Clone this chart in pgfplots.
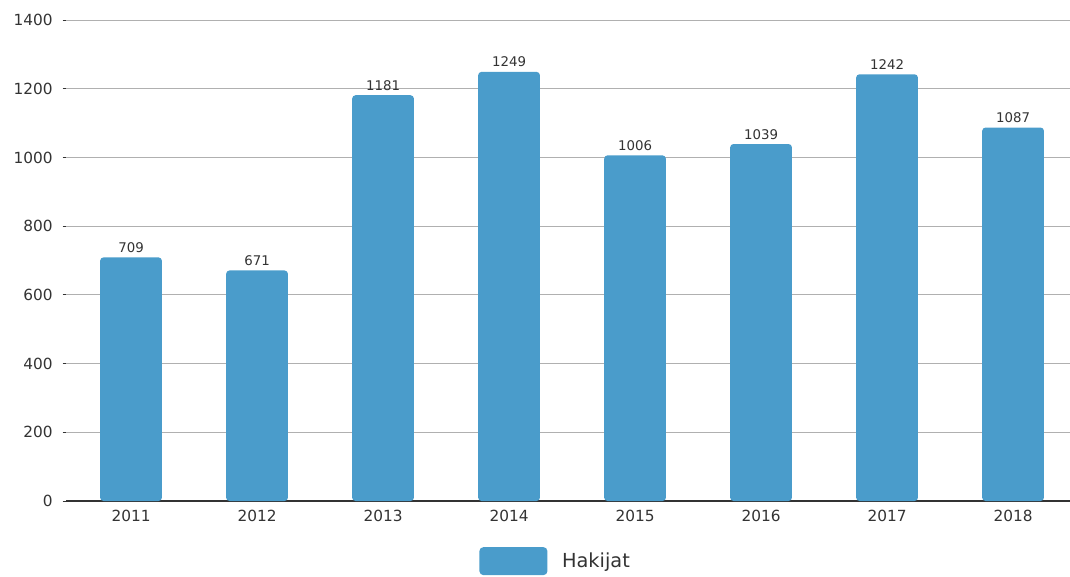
\documentclass[border=0pt]{standalone}
\usepackage{pgfplots}
\pgfplotsset{compat=1.18}
\usepackage{fontspec}
\setmainfont{DejaVu Sans}
\definecolor{barblue}{HTML}{4A9CCB}
\definecolor{txt}{HTML}{333333}
\definecolor{gridc}{HTML}{B0B0B0}
\begin{document}
\begin{tikzpicture}
\path[use as bounding box] (0,0) rectangle (802.5pt,432pt);
\begin{axis}[
  at={(49.5pt,56.25pt)}, anchor=south west,
  scale only axis, width=753pt, height=360.75pt,
  ymin=0, ymax=1400, xmin=-0.516, xmax=7.452,
  ytick={0,200,...,1400},
  xtick=data,
  xticklabels={2011,2012,2013,2014,2015,2016,2017,2018},
  /pgf/number format/1000 sep={},
  /pgf/number format/assume math mode=true,
  axis x line*=bottom, axis y line*=left,
  y axis line style={draw=none},
  x axis line style={draw=txt, line width=0.9pt, -},
  xtick style={draw=none},
  ytick style={draw=txt, line width=0.6pt},
  tick align=outside, major tick length=2.5pt,
  ymajorgrids, grid style={draw=gridc, line width=0.7pt},
  tick label style={font=\fontsize{11.5}{13}\selectfont, text=txt},
  yticklabel style={xshift=-4pt},
  xticklabel style={yshift=-1pt},
  legend style={draw=none, fill=none, at={(axis description cs:0.488,-0.125)}, anchor=center,
    font=\fontsize{14.5}{17}\selectfont, text=txt},
  legend image code/.code={\fill[barblue, rounded corners=3pt] (0pt,-10.5pt) rectangle (51pt,10.5pt);},
  legend cell align=left,
]
\addplot[ybar, bar width=0.49, fill=barblue, draw=none, rounded corners=2.5pt,
  nodes near coords,
  every node near coord/.append style={font=\fontsize{10}{12}\selectfont, text=txt}]
  coordinates {(0,709) (1,671) (2,1181) (3,1249) (4,1006) (5,1039) (6,1242) (7,1087)};
\legend{\hspace{9pt}Hakijat}
\end{axis}
\end{tikzpicture}
\end{document}
